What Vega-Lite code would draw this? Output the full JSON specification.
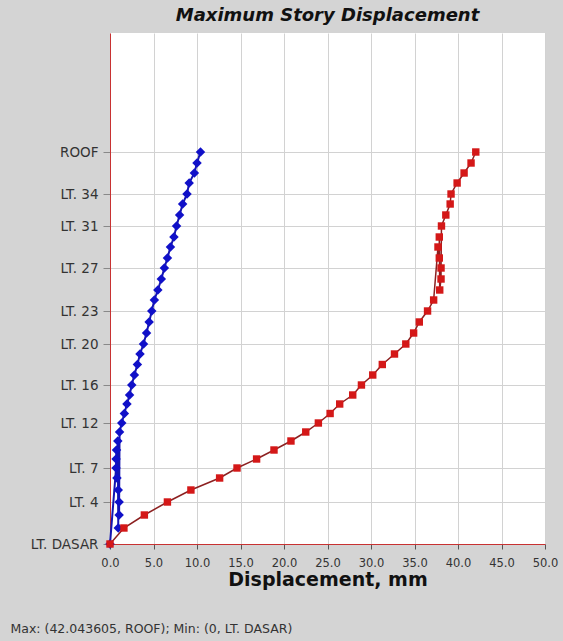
{
  "$schema": "https://vega.github.io/schema/vega-lite/v6.json",
  "width": 435,
  "height": 511,
  "autosize": {"type": "none"},
  "padding": {"left": 110, "top": 33, "right": 18, "bottom": 97},
  "background": "#d4d4d4",
  "title": {"text": "Maximum Story Displacement", "font": "DejaVu Sans", "fontSize": 18, "fontWeight": "bold", "fontStyle": "italic", "color": "#111111", "anchor": "middle", "offset": 8},
  "config": {
    "view": {"fill": "#ffffff", "stroke": null},
    "axis": {"labelFont": "DejaVu Sans", "titleFont": "DejaVu Sans", "labelColor": "#333333", "labelFontSize": 11.5, "gridColor": "#d2d2d2", "gridOpacity": 1, "domainColor": "#c83232", "domainWidth": 1, "labelFlush": false}
  },
  "datasets": {
    "disp": [
      {"story": "LT. DASAR", "elev": 0, "case": "Case 1", "disp": 0},
      {"story": "LT. 2", "elev": 16, "case": "Case 1", "disp": 1.6},
      {"story": "LT. 3", "elev": 29, "case": "Case 1", "disp": 3.95},
      {"story": "LT. 4", "elev": 42, "case": "Case 1", "disp": 6.6},
      {"story": "LT. 5", "elev": 54, "case": "Case 1", "disp": 9.3},
      {"story": "LT. 6", "elev": 66, "case": "Case 1", "disp": 12.6},
      {"story": "LT. 7", "elev": 76, "case": "Case 1", "disp": 14.6},
      {"story": "LT. 8", "elev": 85, "case": "Case 1", "disp": 16.85},
      {"story": "LT. 9", "elev": 94, "case": "Case 1", "disp": 18.85},
      {"story": "LT. 10", "elev": 103, "case": "Case 1", "disp": 20.8},
      {"story": "LT. 11", "elev": 112, "case": "Case 1", "disp": 22.5},
      {"story": "LT. 12", "elev": 121, "case": "Case 1", "disp": 23.95},
      {"story": "LT. 13", "elev": 130.5, "case": "Case 1", "disp": 25.3},
      {"story": "LT. 14", "elev": 140, "case": "Case 1", "disp": 26.4},
      {"story": "LT. 15", "elev": 149, "case": "Case 1", "disp": 27.9},
      {"story": "LT. 16", "elev": 159, "case": "Case 1", "disp": 28.9},
      {"story": "LT. 17", "elev": 169, "case": "Case 1", "disp": 30.2},
      {"story": "LT. 18", "elev": 179.5, "case": "Case 1", "disp": 31.3},
      {"story": "LT. 19", "elev": 190, "case": "Case 1", "disp": 32.7},
      {"story": "LT. 20", "elev": 200, "case": "Case 1", "disp": 34.0},
      {"story": "LT. 21", "elev": 211, "case": "Case 1", "disp": 34.9},
      {"story": "LT. 22", "elev": 222, "case": "Case 1", "disp": 35.55},
      {"story": "LT. 23", "elev": 233, "case": "Case 1", "disp": 36.5},
      {"story": "LT. 24", "elev": 244, "case": "Case 1", "disp": 37.2},
      {"story": "LT. 25", "elev": 254, "case": "Case 1", "disp": 37.9},
      {"story": "LT. 26", "elev": 265, "case": "Case 1", "disp": 38.05},
      {"story": "LT. 27", "elev": 276, "case": "Case 1", "disp": 38.05},
      {"story": "LT. 28", "elev": 286, "case": "Case 1", "disp": 37.85},
      {"story": "LT. 29", "elev": 297, "case": "Case 1", "disp": 37.7},
      {"story": "LT. 30", "elev": 307, "case": "Case 1", "disp": 37.85},
      {"story": "LT. 31", "elev": 318, "case": "Case 1", "disp": 38.1},
      {"story": "LT. 32", "elev": 329, "case": "Case 1", "disp": 38.6},
      {"story": "LT. 33", "elev": 340, "case": "Case 1", "disp": 39.1},
      {"story": "LT. 34", "elev": 350, "case": "Case 1", "disp": 39.2},
      {"story": "LT. 35", "elev": 361, "case": "Case 1", "disp": 39.9},
      {"story": "LT. 36", "elev": 371, "case": "Case 1", "disp": 40.7},
      {"story": "LT. 37", "elev": 381, "case": "Case 1", "disp": 41.5},
      {"story": "ROOF", "elev": 392, "case": "Case 1", "disp": 42.043605},
      {"story": "LT. DASAR", "elev": 0, "case": "Case 2", "disp": 0},
      {"story": "LT. 2", "elev": 16, "case": "Case 2", "disp": 0.95},
      {"story": "LT. 3", "elev": 29, "case": "Case 2", "disp": 1.05},
      {"story": "LT. 4", "elev": 42, "case": "Case 2", "disp": 1.05},
      {"story": "LT. 5", "elev": 54, "case": "Case 2", "disp": 0.95},
      {"story": "LT. 6", "elev": 66, "case": "Case 2", "disp": 0.8},
      {"story": "LT. 7", "elev": 76, "case": "Case 2", "disp": 0.7},
      {"story": "LT. 8", "elev": 85, "case": "Case 2", "disp": 0.7},
      {"story": "LT. 9", "elev": 94, "case": "Case 2", "disp": 0.75},
      {"story": "LT. 10", "elev": 103, "case": "Case 2", "disp": 0.9},
      {"story": "LT. 11", "elev": 112, "case": "Case 2", "disp": 1.1},
      {"story": "LT. 12", "elev": 121, "case": "Case 2", "disp": 1.35},
      {"story": "LT. 13", "elev": 130.5, "case": "Case 2", "disp": 1.65},
      {"story": "LT. 14", "elev": 140, "case": "Case 2", "disp": 1.95},
      {"story": "LT. 15", "elev": 149, "case": "Case 2", "disp": 2.25},
      {"story": "LT. 16", "elev": 159, "case": "Case 2", "disp": 2.5},
      {"story": "LT. 17", "elev": 169, "case": "Case 2", "disp": 2.8},
      {"story": "LT. 18", "elev": 179.5, "case": "Case 2", "disp": 3.15},
      {"story": "LT. 19", "elev": 190, "case": "Case 2", "disp": 3.45},
      {"story": "LT. 20", "elev": 200, "case": "Case 2", "disp": 3.85},
      {"story": "LT. 21", "elev": 211, "case": "Case 2", "disp": 4.2},
      {"story": "LT. 22", "elev": 222, "case": "Case 2", "disp": 4.5},
      {"story": "LT. 23", "elev": 233, "case": "Case 2", "disp": 4.8},
      {"story": "LT. 24", "elev": 244, "case": "Case 2", "disp": 5.1},
      {"story": "LT. 25", "elev": 254, "case": "Case 2", "disp": 5.5},
      {"story": "LT. 26", "elev": 265, "case": "Case 2", "disp": 5.9},
      {"story": "LT. 27", "elev": 276, "case": "Case 2", "disp": 6.25},
      {"story": "LT. 28", "elev": 286, "case": "Case 2", "disp": 6.6},
      {"story": "LT. 29", "elev": 297, "case": "Case 2", "disp": 6.95},
      {"story": "LT. 30", "elev": 307, "case": "Case 2", "disp": 7.35},
      {"story": "LT. 31", "elev": 318, "case": "Case 2", "disp": 7.65},
      {"story": "LT. 32", "elev": 329, "case": "Case 2", "disp": 8.0},
      {"story": "LT. 33", "elev": 340, "case": "Case 2", "disp": 8.35},
      {"story": "LT. 34", "elev": 350, "case": "Case 2", "disp": 8.85},
      {"story": "LT. 35", "elev": 361, "case": "Case 2", "disp": 9.1},
      {"story": "LT. 36", "elev": 371, "case": "Case 2", "disp": 9.7},
      {"story": "LT. 37", "elev": 381, "case": "Case 2", "disp": 10.0},
      {"story": "ROOF", "elev": 392, "case": "Case 2", "disp": 10.4}
    ]
  },
  "data": {"name": "disp"},
  "encoding": {
    "y": {
      "field": "elev", "type": "quantitative",
      "scale": {"domain": [0, 511], "nice": false, "zero": false},
      "axis": {
        "title": null,
        "values": [0, 42, 76, 121, 159, 200, 233, 276, 318, 350, 392],
        "labelExpr": "datum.value == 0 ? 'LT. DASAR' : datum.value == 42 ? 'LT. 4' : datum.value == 76 ? 'LT. 7' : datum.value == 121 ? 'LT. 12' : datum.value == 159 ? 'LT. 16' : datum.value == 200 ? 'LT. 20' : datum.value == 233 ? 'LT. 23' : datum.value == 276 ? 'LT. 27' : datum.value == 318 ? 'LT. 31' : datum.value == 350 ? 'LT. 34' : 'ROOF'",
        "labelFontSize": 13.5, "tickColor": "#888888", "tickSize": 7, "labelPadding": 5, "grid": true
      }
    }
  },
  "layer": [
    {
      "transform": [{"filter": "datum.case == 'Case 2'"}],
      "mark": {"type": "line", "color": "#1515b0", "strokeWidth": 2},
      "encoding": {
        "x": {
          "field": "disp", "type": "quantitative",
          "scale": {"domain": [0, 50], "nice": false},
          "axis": {"title": "Displacement, mm", "titleFontSize": 19, "titleFontWeight": "bold", "titleColor": "#111111", "titlePadding": 2, "values": [0, 5, 10, 15, 20, 25, 30, 35, 40, 45, 50], "format": ".1f", "tickColor": "#555555", "tickSize": 5, "labelPadding": 8, "grid": true}
        }
      }
    },
    {
      "transform": [{"filter": "datum.case == 'Case 2'"}],
      "mark": {"type": "point", "shape": "diamond", "filled": true, "color": "#1010c8", "size": 90, "opacity": 1},
      "encoding": {"x": {"field": "disp", "type": "quantitative", "axis": null}}
    },
    {
      "transform": [{"filter": "datum.case == 'Case 1'"}],
      "mark": {"type": "line", "color": "#8c2020", "strokeWidth": 1.5},
      "encoding": {"x": {"field": "disp", "type": "quantitative", "axis": null}}
    },
    {
      "transform": [{"filter": "datum.case == 'Case 1'"}],
      "mark": {"type": "point", "shape": "square", "filled": true, "color": "#d41818", "size": 55, "opacity": 1},
      "encoding": {
        "x": {
          "field": "disp", "type": "quantitative",
          "axis": {"orient": "bottom", "title": "Max: (42.043605, ROOF);   Min: (0, LT. DASAR)", "titleFont": "DejaVu Sans", "titleFontSize": 12.5, "titleFontWeight": "normal", "titleColor": "#333333", "titleX": -100, "titleY": 84, "titleAlign": "left", "titleBaseline": "middle", "labels": false, "ticks": false, "domain": false, "grid": false}
        }
      }
    }
  ],
  "resolve": {"axis": {"x": "independent"}}
}
